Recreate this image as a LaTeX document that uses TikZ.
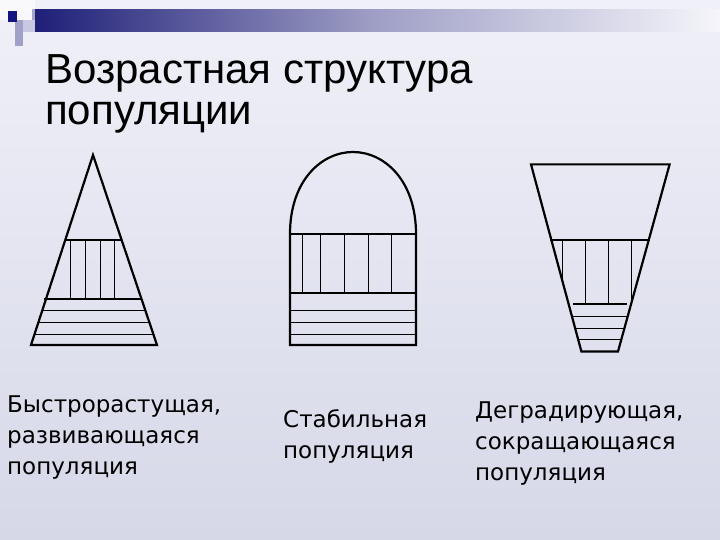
\documentclass[tikz,border=0pt]{standalone}
\usepackage{fontspec}
\setmainfont{DejaVu Sans}
\newfontfamily\titlefont{Liberation Sans}
\definecolor{bgtop}{RGB}{240,240,248}
\definecolor{bgbot}{RGB}{214,216,232}
\definecolor{barl}{RGB}{30,30,120}
\definecolor{barr}{RGB}{245,245,250}
\definecolor{sqa}{RGB}{160,160,200}
\definecolor{sqb}{RGB}{200,200,225}
\definecolor{sqc}{RGB}{20,20,130}
\begin{document}
\begin{tikzpicture}[x=1pt,y=-1pt,
  thick line/.style={line width=2.2pt},
  thin line/.style={line width=0.9pt},
  lbl/.style={anchor=north west,align=left,font=\fontsize{23}{31}\selectfont,inner sep=0pt},
  ttl/.style={anchor=north west,align=left,font=\titlefont\fontsize{42}{41}\selectfont,inner sep=0pt}]
\useasboundingbox (0,0) rectangle (720,540);
\shade[top color=bgtop,bottom color=bgbot] (0,0) rectangle (720,540);
% top bar
\shade[left color=barl,right color=barr,middle color=barl!40!barr] (32,10) rectangle (720,32);
\fill[white,opacity=0.6] (0,0) rectangle (35,20);
\fill[sqa] (15,20) rectangle (23,46);
\fill[sqb] (23,20) rectangle (35,32);
\fill[sqc] (8,11) rectangle (17,22);
% title
\node[ttl] (title) at (45,54) {Возрастная структура\\популяции};
% shape 1
\begin{scope}
\clip (93,155) -- (157,345) -- (31,345) -- cycle;
\foreach \x in {70,85,100,114} \draw[thin line] (\x,240) -- (\x,299);
\end{scope}
\draw[thick line] (93,155) -- (157,345) -- (31,345) -- cycle;
\draw[thick line] (65.5,240) -- (121,240);
\draw[thick line] (44,299) -- (142,299);
\foreach \y in {310,322,334} \draw[thin line] ({93-62*(\y-155)/190},\y) -- ({93+64*(\y-155)/190},\y);
% shape 2
\draw[thick line] (290,234) .. controls (290,180) and (322,152) .. (353,152) .. controls (384,152) and (416,180) .. (416,234) -- (416,345) -- (290,345) -- cycle;
\draw[thick line] (290,234) -- (416,234);
\draw[thick line] (290,292.6) -- (416,292.6);
\foreach \y in {310,322,334} \draw[thin line] (290,\y) -- (416,\y);
\foreach \x in {302,320,344,368,391.5} \draw[thin line] (\x,234) -- (\x,292.6);
% shape 3
\begin{scope}
\clip (531,164.4) -- (669.6,164.4) -- (618,351.5) -- (581.4,351.5) -- cycle;
\foreach \x in {562,585,608.5,631} \draw[thin line] (\x,240) -- (\x,304);
\end{scope}
\draw[thick line] (531,164.4) -- (669.6,164.4) -- (618,351.5) -- (581.4,351.5) -- cycle;
\draw[thick line] (550,240) -- (650,240);
\draw[thick line] (573,304) -- (626.6,304);
\foreach \y in {316,328,339.5} \draw[thin line] ({531+50.4*(\y-164.4)/187.1},\y) -- ({669.6-51.6*(\y-164.4)/187.1},\y);
% labels
\node[lbl] (l1) at (7,396) {Быстрорастущая,\\развивающаяся\\популяция};
\node[lbl] (l2) at (283,409) {Стабильная\\популяция};
\node[lbl] (l3) at (475,402) {Деградирующая,\\сокращающаяся\\популяция};
\end{tikzpicture}
\end{document}
